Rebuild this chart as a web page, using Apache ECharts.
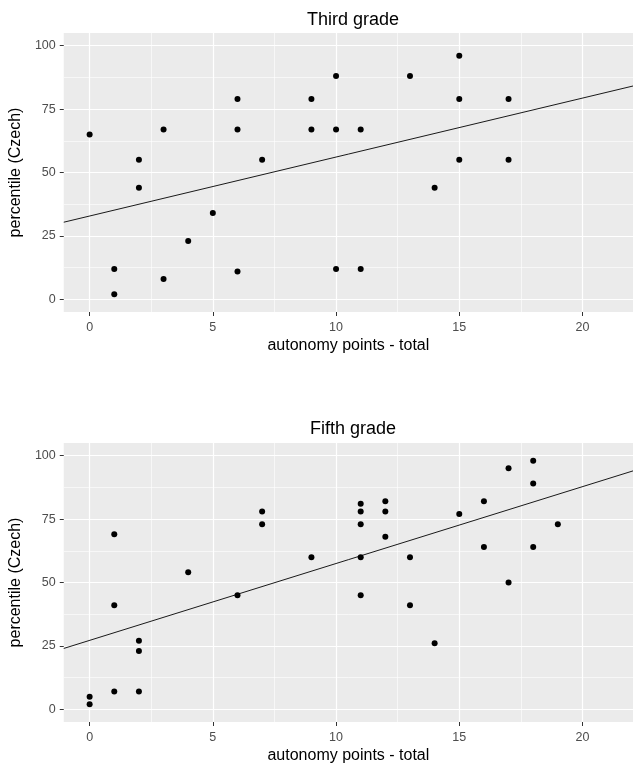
<!DOCTYPE html>
<html>
<head>
<meta charset="utf-8">
<script src="https://cdn.jsdelivr.net/npm/echarts@6/dist/echarts.min.js"></script>
<style>
html,body{margin:0;padding:0;background:#fff;}
#c{width:634px;height:765px;}
</style>
</head>
<body>
<div id="c"></div>
<script>
// ---- data ----
const panelTitles = ['Third grade', 'Fifth grade'];
const xTitle = 'autonomy points - total';
const yTitle = 'percentile (Czech)';
const xTicks = [0, 5, 10, 15, 20];
const yTicks = [0, 25, 50, 75, 100];
const xMinor = [2.5, 7.5, 12.5, 17.5];
const yMinor = [12.5, 37.5, 62.5, 87.5];

const thirdX = [0, 1, 1, 2, 2, 3, 3, 4, 5, 6, 6, 6, 7, 9, 9, 10, 10, 10, 11, 11, 13, 14, 15, 15, 15, 17, 17];
const thirdY = [65, 12, 2, 55, 44, 67, 8, 23, 34, 79, 67, 11, 55, 79, 67, 88, 67, 12, 67, 12, 88, 44, 96, 79, 55, 79, 55];

const fifthX = [0, 0, 1, 1, 1, 2, 2, 2, 4, 6, 7, 7, 9, 11, 11, 11, 11, 11, 12, 12, 12, 13, 13, 14, 15, 16, 16, 17, 17, 18, 18, 18, 19];
const fifthY = [5, 2, 69, 41, 7, 27, 23, 7, 54, 45, 78, 73, 60, 81, 78, 73, 60, 45, 82, 78, 68, 60, 41, 26, 77, 82, 64, 95, 50, 98, 89, 64, 73];

// fitted lines: end points read at the panel edges
const thirdFitX = [-1.05, 22.05];
const thirdFitY = [30.4, 84.1];
const fifthFitX = [-1.05, 22.05];
const fifthFitY = [24.0, 94.0];

const xRange = [-1.05, 22.05];
const yRange = [-5, 105];

// ---- chart ----
const FONT = '"Liberation Sans", Arial, Helvetica, sans-serif';
const zip = (a, b) => a.map((v, i) => [v, b[i]]);

const grids = [
  {left: 63, right: 1, top: 33, height: 279},
  {left: 63, right: 1, top: 443, height: 279}
].map(g => Object.assign(g, {show: true, backgroundColor: '#EBEBEB', borderWidth: 0, containLabel: false}));

const xAxes = [], yAxes = [];
[0, 1].forEach(gi => {
  xAxes.push({
    type: 'value', gridIndex: gi, min: xRange[0], max: xRange[1], position: 'bottom',
    name: xTitle, nameLocation: 'middle', nameGap: 26,
    nameTextStyle: {color: '#000', fontSize: 16, fontFamily: FONT},
    axisLine: {show: false, onZero: false},
    axisTick: {show: true, length: 4, lineStyle: {color: '#333', width: 1}, customValues: xTicks},
    axisLabel: {show: true, customValues: xTicks, color: '#4D4D4D', fontSize: 12.5, fontFamily: FONT, margin: 9},
    splitLine: {show: true, lineStyle: {color: '#fff', width: 1.2}}
  });
  yAxes.push({
    type: 'value', gridIndex: gi, min: yRange[0], max: yRange[1], position: 'left',
    name: yTitle, nameLocation: 'middle', nameGap: 31,
    nameTextStyle: {color: '#000', fontSize: 16, fontFamily: FONT},
    axisLine: {show: false, onZero: false},
    axisTick: {show: true, length: 4, lineStyle: {color: '#333', width: 1}, customValues: yTicks},
    axisLabel: {show: true, customValues: yTicks, color: '#4D4D4D', fontSize: 12.5, fontFamily: FONT, margin: 8},
    splitLine: {show: true, lineStyle: {color: '#fff', width: 1.2}}
  });
});
// minor grid overlay axes
[0, 1].forEach(gi => {
  xAxes.push({
    type: 'value', gridIndex: gi, min: xRange[0], max: xRange[1], position: 'top',
    axisLine: {show: false, onZero: false}, axisLabel: {show: false},
    axisTick: {show: false, customValues: xMinor},
    splitLine: {show: true, lineStyle: {color: '#fff', width: 0.6}}
  });
  yAxes.push({
    type: 'value', gridIndex: gi, min: yRange[0], max: yRange[1], position: 'right',
    axisLine: {show: false, onZero: false}, axisLabel: {show: false},
    axisTick: {show: false, customValues: yMinor},
    splitLine: {show: true, lineStyle: {color: '#fff', width: 0.6}}
  });
});

const pts = [zip(thirdX, thirdY), zip(fifthX, fifthY)];
const fits = [zip(thirdFitX, thirdFitY), zip(fifthFitX, fifthFitY)];
const series = [];
[0, 1].forEach(gi => {
  series.push({
    type: 'scatter', xAxisIndex: gi, yAxisIndex: gi, data: pts[gi],
    symbol: 'circle', symbolSize: 6, itemStyle: {color: '#000', opacity: 1}, z: 3
  });
  series.push({
    type: 'line', xAxisIndex: gi, yAxisIndex: gi, data: fits[gi],
    showSymbol: false, symbol: 'none', lineStyle: {color: '#000', width: 0.9}, z: 4
  });
});

const chart = echarts.init(document.getElementById('c'), null, {renderer: 'canvas'});
chart.setOption({
  animation: false,
  backgroundColor: '#fff',
  title: [
    {text: panelTitles[0], left: 348, top: 6, textAlign: 'center', textStyle: {color: '#000', fontSize: 18, fontWeight: 'normal', fontFamily: FONT}},
    {text: panelTitles[1], left: 348, top: 415, textAlign: 'center', textStyle: {color: '#000', fontSize: 18, fontWeight: 'normal', fontFamily: FONT}}
  ],
  grid: grids,
  xAxis: xAxes,
  yAxis: yAxes,
  series: series
});
</script>
</body>
</html>
